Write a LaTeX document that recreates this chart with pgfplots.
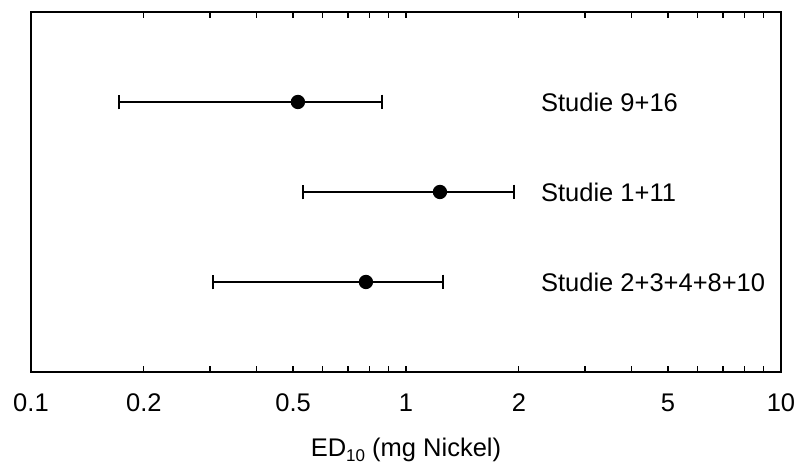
\documentclass[border=0pt]{standalone}
\usepackage{fontspec}
\setmainfont{Liberation Sans}
\usepackage{pgfplots}
\pgfplotsset{compat=1.18}

\begin{document}
\fontsize{25.5}{30}\selectfont
\begin{tikzpicture}
\begin{axis}[
  scale only axis,
  width=750pt, height=360pt,
  xmode=log,
  xmin=0.1, xmax=10,
  ymin=0, ymax=4,
  ytick=\empty,
  xtick={0.1,0.2,0.3,0.4,0.5,0.6,0.7,0.8,0.9,1,2,3,4,5,6,7,8,9,10},
  xticklabels={0.1,0.2,,,0.5,,,,,1,2,,,5,,,,,10},
  minor xtick={},
  major tick length=6pt,
  tick align=inside,
  xtick pos=both,
  axis line style={line width=1.3pt},
  tick style={line width=1.3pt, black},
  xticklabel style={font=\fontsize{25.5}{30}\selectfont, yshift=-13pt},
  xlabel={ED\raisebox{-0.35ex}{\fontsize{17}{19}\selectfont 10} (mg Nickel)},
  xlabel style={font=\fontsize{25.5}{30}\selectfont, yshift=-9pt},
  clip=false,
]
\addplot[black, line width=1.3pt, only marks, mark=*, mark size=6.5pt,
  error bars/.cd, x dir=both, x explicit,
  error mark=|, error mark options={line width=1.6pt, mark size=7.3pt},
  error bar style={line width=1.3pt}]
  coordinates {
    (0.515,3) -= (0.343,0) += (0.348,0)
    (1.232,2) -= (0.701,0) += (0.709,0)
    (0.782,1) -= (0.476,0) += (0.473,0)
  };
\node[anchor=west, inner sep=0pt] at (axis cs:2.29,3) {Studie 9+16};
\node[anchor=west, inner sep=0pt] at (axis cs:2.29,2) {Studie 1+11};
\node[anchor=west, inner sep=0pt] at (axis cs:2.29,1) {Studie 2+3+4+8+10};
\path (rel axis cs:-0.0413,-0.275) rectangle (rel axis cs:1.0307,1.0333);
\end{axis}
\end{tikzpicture}
\end{document}
